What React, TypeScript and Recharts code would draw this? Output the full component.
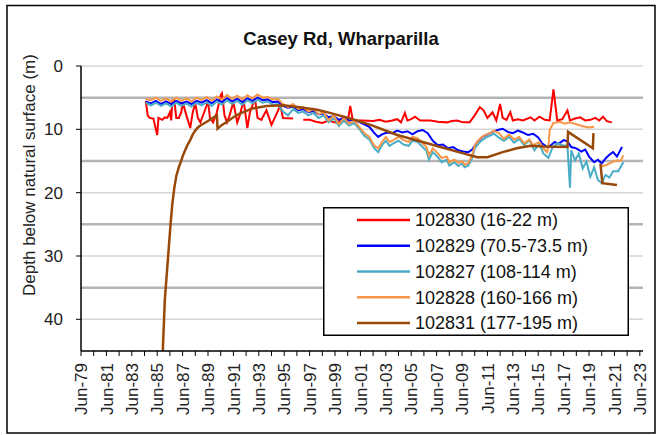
import React from 'react';
import { LineChart, Line, XAxis, YAxis, CartesianGrid, Legend } from 'recharts';

type Pt = [number, number | null];

// decimal year, depth below natural surface (m)
const bore102830: Pt[] = [
  [1984.6, 5.5], [1984.75, 7.8], [1984.9, 8.2], [1985.2, 8.3], [1985.5, 10.9], [1985.6, 8.2], [1985.9, 8.5],
  [1986.1, 8.1], [1986.3, 8.2], [1986.5, 7.3], [1986.6, 8.6], [1986.7, 5.4], [1986.85, 5.4], [1987.0, 8.2],
  [1987.2, 8.2], [1987.4, 7.3], [1987.5, 5.7], [1987.8, 7.8], [1988.1, 9.8], [1988.3, 7.3], [1988.5, 5.9],
  [1988.7, 8.2], [1988.9, 8.9], [1989.2, 7.3], [1989.4, 6.2], [1989.5, 5.4], [1989.65, 8.2], [1989.9, 8.9],
  [1990.2, 7.3], [1990.5, 4.6], [1990.6, 4.3], [1990.8, 7.8], [1991.0, 8.9], [1991.2, 7.8], [1991.5, 5.7],
  [1991.8, 8.9], [1992.0, 7.8], [1992.3, 5.4], [1992.6, 9.8], [1992.8, 7.3], [1993.2, 5.1], [1993.4, 8.2],
  [1993.7, 8.5], [1994.1, 7.0], [1994.5, 9.3], [1994.8, 8.0], [1995.2, 6.2], [1995.4, 8.2], [1996.2, 8.3],
  [1996.6, null], [1997.0, 8.5], [1997.5, 8.5], [1998.0, 8.8], [1998.5, 9.0], [1999.0, 8.6], [1999.5, 8.9],
  [2000.0, 8.7], [2000.5, 8.8], [2000.7, 6.3], [2000.9, 8.6], [2001.7, 8.6], [2002.5, 8.7], [2003.0, 8.5],
  [2003.5, 8.8], [2004.0, 8.6], [2004.4, 8.4], [2004.7, 8.9], [2005.0, 7.4], [2005.2, 8.6], [2005.5, 8.4],
  [2005.8, 8.0], [2006.2, 8.6], [2007.0, 8.6], [2007.6, 8.8], [2008.3, 8.9], [2008.7, 8.7], [2009.1, 8.6],
  [2009.6, 8.9], [2010.1, 8.9], [2010.5, 7.8], [2010.9, 6.5], [2011.2, 7.0], [2011.5, 8.2], [2011.9, 7.3],
  [2012.2, 8.6], [2012.5, 6.0], [2012.7, 8.2], [2013.0, 8.5], [2013.3, 7.3], [2013.5, 8.6], [2013.9, 8.4],
  [2014.3, 8.6], [2014.9, 8.1], [2015.2, 8.6], [2015.6, 8.0], [2016.0, 8.5], [2016.4, 8.6], [2016.7, 3.7],
  [2017.0, 8.6], [2017.4, 8.4], [2017.8, 7.0], [2018.0, 8.6], [2018.4, 8.3], [2018.8, 8.1], [2019.2, 8.6],
  [2019.6, 8.5], [2020.0, 8.2], [2020.3, 8.6], [2020.6, 8.0], [2020.9, 8.7], [2021.3, 8.9],
];

const bore102829: Pt[] = [
  [1984.6, 5.6], [1985.0, 5.9], [1985.4, 5.5], [1985.8, 6.0], [1986.2, 5.6], [1986.6, 6.0], [1987.0, 5.5],
  [1987.4, 5.9], [1987.8, 5.6], [1988.2, 6.0], [1988.6, 5.5], [1989.0, 5.8], [1989.4, 5.4], [1989.8, 5.9],
  [1990.2, 5.3], [1990.6, 5.7], [1991.0, 5.1], [1991.4, 5.6], [1991.8, 5.2], [1992.2, 5.7], [1992.6, 5.1],
  [1993.0, 5.5], [1993.4, 5.0], [1993.8, 5.4], [1994.2, 5.3], [1994.6, 5.7], [1995.0, 5.6], [1995.4, 6.3],
  [1995.8, 6.6], [1996.2, 6.4], [1996.6, 7.0], [1997.0, 6.8], [1997.4, 7.3], [1997.8, 7.1], [1998.2, 7.6],
  [1998.6, 7.5], [1999.0, 8.1], [1999.4, 7.9], [1999.8, 8.5], [2000.2, 8.2], [2000.6, 8.6], [2001.0, 8.5],
  [2001.4, 8.8], [2001.8, 9.2], [2002.2, 9.6], [2002.6, 10.6], [2002.9, 11.2], [2003.2, 10.8], [2003.6, 10.5],
  [2004.0, 10.6], [2004.4, 10.2], [2004.8, 10.5], [2005.2, 10.3], [2005.6, 10.8], [2006.0, 10.3], [2006.4, 10.1],
  [2006.8, 10.6], [2007.2, 11.8], [2007.6, 12.5], [2008.0, 12.4], [2008.4, 13.0], [2008.8, 12.8], [2009.2, 13.3],
  [2009.6, 13.5], [2010.0, 13.6], [2010.3, 13.2], [2010.7, 12.0], [2011.1, 11.2], [2011.5, 10.8], [2011.9, 10.4],
  [2012.3, 10.1], [2012.7, 9.9], [2013.1, 10.4], [2013.5, 10.6], [2013.9, 10.2], [2014.3, 10.5], [2014.7, 10.9],
  [2015.1, 10.7], [2015.5, 11.3], [2015.8, 12.2], [2016.2, 12.8], [2016.5, 12.5], [2016.8, 12.0], [2017.1, 12.3],
  [2017.5, 11.7], [2017.8, 11.9], [2018.1, 12.8], [2018.5, 13.0], [2018.9, 13.5], [2019.2, 13.2], [2019.5, 14.3],
  [2019.9, 15.2], [2020.2, 14.8], [2020.5, 15.4], [2020.8, 14.6], [2021.1, 14.0], [2021.4, 13.6], [2021.7, 14.3],
  [2022.1, 12.8],
];

const bore102827: Pt[] = [
  [1984.6, 5.8], [1985.0, 6.2], [1985.4, 5.8], [1985.8, 6.3], [1986.2, 5.9], [1986.6, 6.4], [1987.0, 5.8],
  [1987.4, 6.3], [1987.8, 5.9], [1988.2, 6.4], [1988.6, 5.8], [1989.0, 6.2], [1989.4, 5.7], [1989.8, 6.3],
  [1990.2, 5.6], [1990.6, 6.1], [1991.0, 5.4], [1991.4, 6.0], [1991.8, 5.5], [1992.2, 6.1], [1992.6, 5.4],
  [1993.0, 5.9], [1993.4, 5.3], [1993.8, 5.8], [1994.2, 5.6], [1994.6, 6.1], [1995.0, 6.0], [1995.4, 7.2],
  [1995.8, 7.8], [1996.2, 6.8], [1996.6, 7.4], [1997.0, 7.2], [1997.4, 7.8], [1997.8, 7.4], [1998.2, 8.2],
  [1998.6, 7.8], [1999.0, 8.9], [1999.4, 8.2], [1999.8, 9.5], [2000.2, 8.6], [2000.6, 9.4], [2001.0, 9.0],
  [2001.4, 9.9], [2001.8, 11.0], [2002.2, 11.6], [2002.6, 13.0], [2002.9, 13.6], [2003.2, 12.5], [2003.5, 11.8],
  [2003.8, 12.6], [2004.1, 12.2], [2004.5, 11.8], [2004.9, 12.4], [2005.3, 12.6], [2005.6, 11.8], [2006.0, 12.0],
  [2006.3, 12.6], [2006.7, 13.4], [2006.9, 14.8], [2007.2, 13.6], [2007.6, 14.4], [2007.9, 15.2], [2008.3, 14.8],
  [2008.5, 15.7], [2008.9, 15.2], [2009.2, 15.8], [2009.5, 15.4], [2009.7, 16.0], [2010.0, 15.7], [2010.3, 14.6],
  [2010.5, 13.0], [2010.9, 12.0], [2011.3, 11.4], [2011.7, 11.0], [2012.0, 10.7], [2012.4, 11.3], [2012.8, 11.8],
  [2013.2, 11.2], [2013.6, 12.1], [2014.0, 11.5], [2014.4, 12.5], [2014.8, 11.7], [2015.2, 13.3], [2015.6, 12.3],
  [2015.9, 13.8], [2016.3, 14.5], [2016.6, 13.0], [2017.0, 12.2], [2017.4, 12.5], [2017.8, 12.6], [2018.0, 19.2],
  [2018.1, 13.3], [2018.4, 14.9], [2018.7, 13.8], [2019.0, 16.2], [2019.3, 15.1], [2019.6, 17.5], [2019.9, 16.0],
  [2020.2, 18.0], [2020.5, 18.5], [2020.8, 17.2], [2021.1, 17.6], [2021.4, 16.6], [2021.8, 16.6], [2022.2, 15.2],
];

const bore102828: Pt[] = [
  [1984.6, 5.2], [1985.0, 5.4], [1985.4, 5.0], [1985.8, 5.5], [1986.2, 5.1], [1986.6, 5.6], [1987.0, 5.0],
  [1987.4, 5.5], [1987.8, 5.1], [1988.2, 5.6], [1988.6, 5.0], [1989.0, 5.4], [1989.4, 4.9], [1989.8, 5.5],
  [1990.2, 4.8], [1990.6, 5.3], [1991.0, 4.6], [1991.4, 5.2], [1991.8, 4.7], [1992.2, 5.3], [1992.6, 4.6],
  [1993.0, 5.1], [1993.4, 4.5], [1993.8, 5.0], [1994.2, 4.9], [1994.6, 5.3], [1995.0, 5.2], [1995.4, 6.0],
  [1995.8, 6.5], [1996.2, 6.0], [1996.6, 6.8], [1997.0, 6.5], [1997.4, 7.2], [1997.8, 6.8], [1998.2, 7.6],
  [1998.6, 7.3], [1999.0, 8.6], [1999.4, 7.8], [1999.8, 9.2], [2000.2, 8.2], [2000.6, 9.1], [2001.0, 8.6],
  [2001.4, 9.6], [2001.8, 10.6], [2002.2, 11.2], [2002.6, 12.6], [2002.9, 13.0], [2003.2, 12.0], [2003.5, 11.2],
  [2003.8, 12.0], [2004.1, 11.7], [2004.5, 11.2], [2004.9, 11.7], [2005.3, 12.0], [2005.6, 11.2], [2006.0, 11.4],
  [2006.3, 12.0], [2006.7, 12.8], [2006.9, 14.1], [2007.2, 13.0], [2007.6, 13.8], [2007.9, 14.5], [2008.3, 14.3],
  [2008.5, 15.2], [2008.9, 14.8], [2009.2, 15.3], [2009.5, 15.0], [2009.7, 15.6], [2010.0, 15.3], [2010.3, 14.1],
  [2010.5, 12.5], [2010.9, 11.5], [2011.3, 10.9], [2011.7, 10.6], [2012.0, 10.2], [2012.4, 10.6], [2012.8, 11.5],
  [2013.2, 10.8], [2013.6, 11.6], [2014.0, 11.2], [2014.4, 12.2], [2014.8, 11.6], [2015.1, 12.5], [2015.6, 12.0],
  [2015.9, 13.0], [2016.2, 13.6], [2016.3, 12.8], [2016.4, 10.1], [2016.7, 9.0], [2017.2, 8.8], [2017.6, 9.1],
  [2018.0, 8.9], [2018.5, 9.2], [2019.0, 9.5], [2019.5, 9.7], [2019.9, 9.6], [2020.1, null], [2020.4, 15.9],
  [2020.9, 15.6], [2021.3, 15.2], [2021.7, 14.9], [2022.0, 15.0], [2022.2, 14.1],
];

const bore102831: Pt[] = [
  [1985.8, 52], [1986.1, 36.9], [1986.4, 29], [1986.55, 25], [1986.7, 21.6], [1986.85, 19.2], [1987.0, 17.4],
  [1987.2, 16.0], [1987.4, 14.9], [1987.55, 14.0], [1987.7, 13.3], [1987.9, 12.4], [1988.1, 11.7], [1988.3, 10.8],
  [1988.5, 10.2], [1988.7, 9.7], [1988.9, 9.4], [1989.4, 8.8], [1989.8, 8.3], [1990.2, 7.8],
  [1990.25, 9.9], [1990.6, 9.3], [1991.0, 8.8], [1991.5, 8.1], [1992.0, 7.5], [1993.0, 6.7], [1994.1, 6.3],
  [1995.4, 6.2], [1996.7, 6.5], [1998.1, 6.9], [1999.1, 7.4], [2000.7, 8.3], [2002.3, 9.3], [2004.4, 10.9],
  [2006.4, 12.0], [2007.8, 12.8], [2009.6, 13.8], [2010.7, 14.4], [2011.5, 14.4], [2012.7, 13.6], [2013.8, 13.0],
  [2014.9, 12.6], [2015.9, 12.7], [2017.8, 12.8], [2017.85, 10.4], [2019.8, 13.0], [2019.85, 10.6],
  [2020.1, null], [2020.4, 15.4], [2020.55, 18.5], [2021.7, 18.8],
];

const seriesNames = [
  '102830 (16-22 m)',
  '102829 (70.5-73.5 m)',
  '102827 (108-114 m)',
  '102828 (160-166 m)',
  '102831 (177-195 m)',
];
const seriesColors = ['#FF0000', '#0000FF', '#4BACC6', '#F79646', '#984807'];
const seriesData = [bore102830, bore102829, bore102827, bore102828, bore102831];

const yTicks = [0, 10, 20, 30, 40];
const minorGrid = [5, 15, 25, 35];
const xTicks = [
  1979.5, 1980.5, 1981.5, 1982.5, 1983.5, 1984.5, 1985.5, 1986.5, 1987.5, 1988.5, 1989.5, 1990.5,
  1991.5, 1992.5, 1993.5, 1994.5, 1995.5, 1996.5, 1997.5, 1998.5, 1999.5, 2000.5, 2001.5, 2002.5,
  2003.5, 2004.5, 2005.5, 2006.5, 2007.5, 2008.5, 2009.5, 2010.5, 2011.5, 2012.5, 2013.5, 2014.5,
  2015.5, 2016.5, 2017.5, 2018.5, 2019.5, 2020.5, 2021.5, 2022.5, 2023.5,
];

const FONT = '"Liberation Sans", Arial, sans-serif';

const toRows = (pts: Pt[]) => pts.map(([t, d]) => ({ t, d }));

const XTick = (props: any) => {
  const { x, y, index, payload } = props;
  if (index % 2 !== 0) return null;
  const yr = Math.floor(payload.value) % 100;
  const label = `Jun-${String(yr).padStart(2, '0')}`;
  return (
    <g transform={`translate(${x},${y})`}>
      <text transform="rotate(-90)" textAnchor="end" dy="0.36em" fontSize={17} fontFamily={FONT} fill="#222">
        {label}
      </text>
    </g>
  );
};

const LegendBox = () => (
  <svg width={306} height={129} style={{ display: 'block' }}>
    <rect x={0.75} y={0.75} width={304.5} height={127.5} fill="#fff" stroke="#000" strokeWidth={1.5} />
    {seriesNames.map((n, i) => {
      const cy = 13 + i * 25.75;
      return (
        <g key={n}>
          <line x1={34} x2={87} y1={cy} y2={cy} stroke={seriesColors[i]} strokeWidth={2.5} />
          <text x={92} y={cy} dy="0.36em" fontSize={18} fontFamily={FONT} fill="#111">
            {n}
          </text>
        </g>
      );
    })}
  </svg>
);

export default function App() {
  return (
    <div style={{ position: 'absolute', left: 0, top: 0, width: 658, height: 435, background: '#fff' }}>
      <LineChart width={658} height={435} margin={{ top: 66, right: 15, bottom: 24, left: 0 }}>
        <CartesianGrid vertical={false} horizontalValues={yTicks} stroke="#d6d6d6" strokeWidth={1.5} />
        <CartesianGrid vertical={false} horizontalValues={minorGrid} stroke="#b4b4b4" strokeWidth={2.5} />
        <XAxis
          dataKey="t"
          type="number"
          domain={[1979.5, 2023.75]}
          ticks={xTicks}
          interval={0}
          height={60}
          tickSize={5}
          tickMargin={7}
          tick={<XTick />}
          axisLine={{ stroke: '#000', strokeWidth: 1.5 }}
          tickLine={{ stroke: '#000', strokeWidth: 1 }}
          allowDataOverflow
        />
        <YAxis
          reversed
          type="number"
          domain={[0, 45]}
          ticks={yTicks}
          interval={0}
          width={81}
          tickSize={5}
          tickMargin={13}
          allowDataOverflow
          axisLine={{ stroke: '#000', strokeWidth: 1.5 }}
          tickLine={{ stroke: '#000', strokeWidth: 1 }}
          tick={{ fontSize: 17, fontFamily: FONT, fill: '#222' }}
        />
        {seriesData.map((pts, i) => (
          <Line
            key={seriesNames[i]}
            data={toRows(pts)}
            dataKey="d"
            name={seriesNames[i]}
            type="linear"
            stroke={seriesColors[i]}
            strokeWidth={i === 4 ? 2.5 : 2}
            dot={false}
            activeDot={false}
            isAnimationActive={false}
          />
        ))}
        <Legend
          layout="horizontal"
          verticalAlign="middle"
          align="center"
          content={<LegendBox />}
          wrapperStyle={{ position: 'absolute', left: 323, top: 207, width: 306, height: 129 }}
        />
      </LineChart>
      <svg width={658} height={435} style={{ position: 'absolute', left: 0, top: 0, pointerEvents: 'none' }}>
        <rect x={7} y={5.5} width={648} height={427.5} fill="none" stroke="#000" strokeWidth={1.5} />
        <text x={341} y={45} textAnchor="middle" fontSize={18.5} fontWeight="bold" fontFamily={FONT} fill="#111">
          Casey Rd, Wharparilla
        </text>
        <text transform="translate(35,175) rotate(-90)" textAnchor="middle" fontSize={17} fontFamily={FONT} fill="#222">
          Depth below natural surface (m)
        </text>
      </svg>
    </div>
  );
}
